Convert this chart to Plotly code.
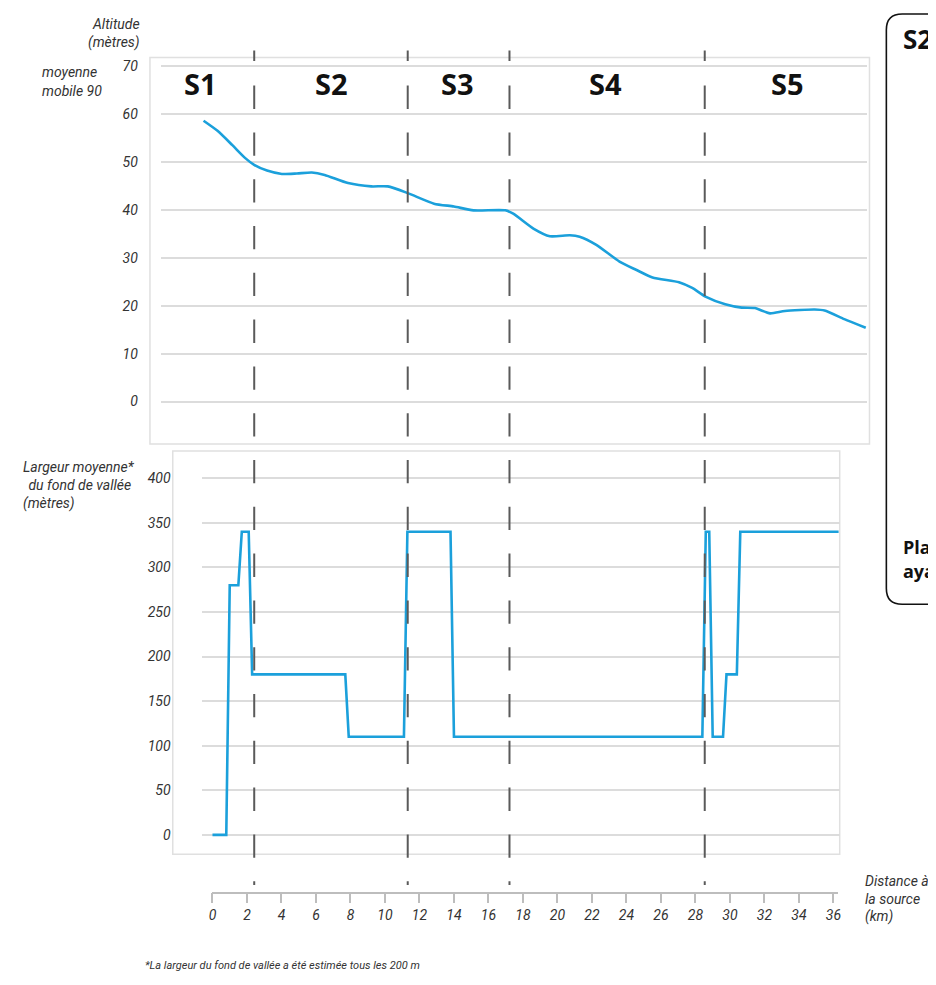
import plotly.graph_objects as go

# the page body adds an 8px margin, so the figure is drawn 8px in from the corner
OFF = 8
W, H = 936 - OFF, 985 - 2 * OFF

# moyenne mobile 90 de l'altitude (m) le long du cours d'eau
alt_km = [0, 0.77, 1.59, 2.30, 2.79, 3.50, 4.32, 5.15, 5.97, 6.68, 7.97, 9.25,
          10.16, 11.26, 12.71, 13.81, 14.89, 16.64, 17.08, 18.19, 19.10, 20.20,
          20.74, 21.66, 22.94, 23.85, 24.76, 26.22, 26.95, 27.68, 28.77, 29.68,
          30.41, 31.24, 32.06, 33.70, 34.25, 35.34, 36.52]
alt_m = [58.6, 56.5, 53.5, 50.8, 49.4, 48.2, 47.5, 47.6, 47.8, 47.3, 45.6, 44.9,
         44.9, 43.5, 41.3, 40.7, 39.9, 39.9, 39.2, 36.1, 34.5, 34.7,
         34.4, 32.7, 29.2, 27.5, 25.9, 24.9, 23.7, 21.9, 20.3, 19.6,
         19.5, 18.4, 18.9, 19.2, 19.0, 17.2, 15.4]

# largeur moyenne du fond de vallee (m)
larg_km = [0, 0.8, 1.0, 1.5, 1.7, 2.1, 2.3, 7.7, 7.9, 11.1, 11.3, 13.8, 14.0,
           28.4, 28.6, 28.8, 29.0, 29.6, 29.8, 30.4, 30.6, 36.3]
larg_m = [0, 0, 280, 280, 340, 340, 180, 180, 110, 110, 340, 340, 110,
          110, 340, 340, 110, 110, 180, 180, 340, 340]

# limites des secteurs (km)
limites_km = [2.42, 11.32, 17.22, 28.54]
secteurs = ["S1", "S2", "S3", "S4", "S5"]
secteurs_px = [198, 330, 457, 606, 789]

alt_ticks = [0, 10, 20, 30, 40, 50, 60, 70]
larg_ticks = [0, 50, 100, 150, 200, 250, 300, 350, 400]
dist_ticks = list(range(0, 37, 2))

BLUE = "#1ba0db"
GRID = "#dcdcdc"
TXT = "#333333"


def px(x):
    return (x - OFF) / W


def py(y):
    return 1 - (y - OFF) / H


fig = go.Figure()

fig.add_trace(go.Scatter(
    x=alt_km, y=alt_m, mode="lines",
    line=dict(color=BLUE, width=2.6, shape="spline", smoothing=0.6),
    xaxis="x", yaxis="y", showlegend=False, hoverinfo="skip"))

fig.add_trace(go.Scatter(
    x=larg_km, y=larg_m, mode="lines",
    line=dict(color=BLUE, width=2.6),
    xaxis="x2", yaxis="y2", showlegend=False, hoverinfo="skip"))

# empty trace so the distance ruler axis gets drawn
fig.add_trace(go.Scatter(x=[], y=[], xaxis="x3", yaxis="y3",
                         showlegend=False, hoverinfo="skip"))

tick_font = dict(family="Roboto, Open Sans, sans-serif", size=14, color=TXT, style="italic")

fig.update_layout(
    width=W, height=H,
    margin=dict(l=0, r=0, t=0, b=0),
    paper_bgcolor="white", plot_bgcolor="white",
    xaxis=dict(domain=[px(158), px(870)], range=[-2.354, 36.617],
               showgrid=False, showticklabels=False, zeroline=False, anchor="y"),
    yaxis=dict(domain=[py(402.4), py(58.3)], range=[-0.5, 70.5],
               tickvals=alt_ticks, showgrid=True, gridcolor=GRID, gridwidth=1.5,
               zeroline=False, tickfont=tick_font, ticklabelstandoff=22, anchor="x"),
    xaxis2=dict(domain=[px(199), px(842)], range=[-0.633, 36.364],
                showgrid=False, showticklabels=False, zeroline=False, anchor="y2"),
    yaxis2=dict(domain=[py(841), py(474.9)], range=[-3, 403],
                tickvals=larg_ticks, showgrid=True, gridcolor=GRID, gridwidth=1.5,
                zeroline=False, tickfont=tick_font, ticklabelstandoff=30, anchor="x2"),
    xaxis3=dict(domain=[px(210), px(840)], range=[0, 36.25], anchor="free",
                position=py(896.7), tickvals=dist_ticks, showgrid=False, zeroline=False,
                showline=True, linecolor="#bdbdbd", linewidth=1.5,
                ticks="outside", ticklen=10, tickwidth=1.5, tickcolor="#bdbdbd",
                tickfont=dict(family="Roboto, Open Sans, sans-serif", size=14,
                              color=TXT, style="italic")),
    yaxis3=dict(domain=[0, 0.02], visible=False, anchor="x3"),
)

shapes = []
# cadres des deux graphiques
shapes.append(dict(type="rect", xref="paper", yref="paper",
                   x0=px(147), x1=px(872), y0=py(443), y1=py(52),
                   line=dict(color="#e0e0e0", width=1.5), layer="below"))
shapes.append(dict(type="rect", xref="paper", yref="paper",
                   x0=px(170), x1=px(842), y0=py(858), y1=py(450),
                   line=dict(color="#e0e0e0", width=1.5), layer="below"))

# limites des secteurs en tirets
dash = "10.5px,24.5px," + ",".join(["23.3px,23.5px"] * 17) + ",14px,40px"
for k in limites_km:
    shapes.append(dict(type="line", xref="x3", yref="paper",
                       x0=k, x1=k, y0=py(45), y1=py(889),
                       line=dict(color="#5a5a5a", width=2, dash=dash)))

# panneau voisin (coupe)
L, T, B, R, r = px(889), py(8), py(605), 1.1, 16
rx, ry = r / W, r / H
path = (f"M {R},{T} L {L + rx},{T} Q {L},{T} {L},{T - ry} "
        f"L {L},{B + ry} Q {L},{B} {L + rx},{B} L {R},{B}")
shapes.append(dict(type="path", xref="paper", yref="paper", path=path,
                   line=dict(color="#111111", width=1.6)))
fig.update_layout(shapes=shapes)

ann = []
for s, x in zip(secteurs, secteurs_px):
    ann.append(dict(text=s, x=px(x), y=py(78), xref="paper", yref="paper",
                    showarrow=False, xanchor="center", yanchor="middle",
                    font=dict(family="Open Sans, sans-serif", size=29, color="#111111",
                              weight="bold")))

lab_font = dict(family="Roboto, Open Sans, sans-serif", size=14, color=TXT, style="italic")


def label(text, x, y, anchor="left", size=14):
    f = dict(lab_font)
    f["size"] = size
    ann.append(dict(text=text, x=px(x), y=py(y), xref="paper", yref="paper",
                    showarrow=False, xanchor=anchor, yanchor="middle", font=f))


label("Altitude", 139, 18, "right")
label("(mètres)", 139, 37, "right")
label("moyenne", 36, 67)
label("mobile 90", 36, 86)
label("Largeur moyenne*", 17, 466)
label(" du fond de vallée", 19, 484)
label("(mètres)", 17, 503)
label("Distance à", 865, 885)
label("la source", 865, 903)
label("(km)", 865, 921)
label("*La largeur du fond de vallée a été estimée tous les 200 m", 140, 970, size=11)

bold = dict(family="Open Sans, sans-serif", color="#111111", weight="bold")
ann.append(dict(text="S2", x=px(904), y=py(33), xref="paper", yref="paper",
                showarrow=False, xanchor="left", yanchor="middle",
                font=dict(bold, size=26)))
ann.append(dict(text="Pla", x=px(904), y=py(547), xref="paper", yref="paper",
                showarrow=False, xanchor="left", yanchor="middle",
                font=dict(bold, size=18)))
ann.append(dict(text="aya", x=px(904), y=py(571), xref="paper", yref="paper",
                showarrow=False, xanchor="left", yanchor="middle",
                font=dict(bold, size=18)))
fig.update_layout(annotations=ann)

fig.write_html("out.html")
